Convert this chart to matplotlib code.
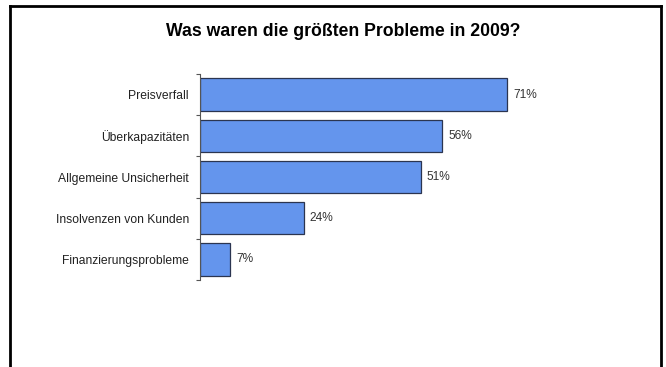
import matplotlib
matplotlib.use("Agg")
import matplotlib.pyplot as plt
from matplotlib.lines import Line2D

categories = ["Preisverfall", "Überkapazitäten", "Allgemeine Unsicherheit",
              "Insolvenzen von Kunden", "Finanzierungsprobleme"]
values = [71, 56, 51, 24, 7]
title = "Was waren die größten Probleme in 2009?"

plt.rcParams["font.family"] = ["Liberation Sans", "DejaVu Sans"]

W, H = 666, 367
fig = plt.figure(figsize=(W / 100, H / 100), dpi=100)
fig.patch.set_facecolor("white")

# open frame (left, top, right) around the chart
frame_kw = dict(color="black", linewidth=2.0, transform=fig.transFigure, solid_capstyle="projecting")
x0, x1, yt = 9.5 / W, 660.5 / W, 1 - 5.5 / H
fig.add_artist(Line2D([x0, x0], [0, yt], **frame_kw))
fig.add_artist(Line2D([x0, x1], [yt, yt], **frame_kw))
fig.add_artist(Line2D([x1, x1], [0, yt], **frame_kw))

fig.text(343 / W, 1 - 32 / H, title, ha="center", va="center",
         fontsize=12.7, fontweight="bold", color="black")

left, right = 200 / W, (200 + 433) / W
top, bottom = 1 - 74 / H, 1 - 280 / H
ax = fig.add_axes([left, bottom, right - left, top - bottom])

n = len(categories)
ypos = list(range(n))
ax.barh(ypos, values, height=0.79, color="#6495ED", edgecolor="#2b3550", linewidth=0.9)
ax.set_ylim(n - 0.5, -0.5)
ax.set_xlim(0, 100)

for y, v in zip(ypos, values):
    ax.text(v + 1.3, y, f"{v}%", ha="left", va="center", fontsize=8.6, color="#333333")

ax.set_yticks(ypos)
ax.set_yticklabels(categories, fontsize=8.7, color="#222222")
ax.tick_params(axis="y", which="major", length=0, pad=8)
ax.set_yticks([i - 0.5 for i in range(n + 1)], minor=True)
ax.tick_params(axis="y", which="minor", length=3, width=0.8, color="#555555", direction="out")
ax.set_xticks([])

for s in ["top", "right", "bottom"]:
    ax.spines[s].set_visible(False)
ax.spines["left"].set_color("#555555")
ax.spines["left"].set_linewidth(0.8)

fig.savefig("out.png", dpi=100, facecolor="white")
